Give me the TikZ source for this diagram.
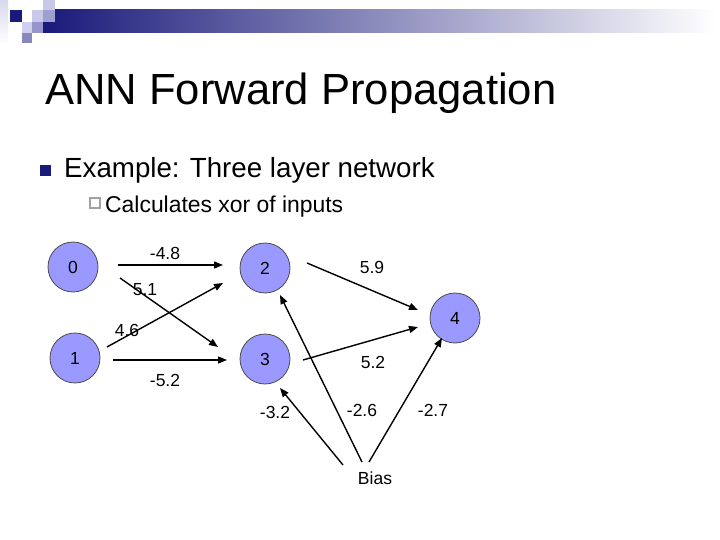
\documentclass[tikz,border=0pt]{standalone}
\usepackage{fontspec}
\setmainfont{Liberation Sans}
\usetikzlibrary{arrows.meta}
\definecolor{navy}{RGB}{26,26,122}
\definecolor{barmid}{RGB}{165,165,190}
\definecolor{nodefill}{RGB}{153,153,255}
\definecolor{sqa}{RGB}{200,200,232}
\definecolor{sqb}{RGB}{160,160,208}
\definecolor{sqc}{RGB}{208,208,238}
\definecolor{sqd}{RGB}{150,150,204}
\definecolor{sqe}{RGB}{136,136,187}
\definecolor{strip}{RGB}{216,216,238}
\definecolor{hollow}{RGB}{160,160,170}
\begin{document}
\begin{tikzpicture}[x=1pt,y=-1pt,
  neuron/.style={circle,draw=black!70,line width=0.8pt,fill=nodefill,minimum size=50pt,inner sep=0pt,font=\fontsize{17.5}{17.5}\selectfont},
  wlabel/.style={font=\fontsize{17.5}{17.5}\selectfont,inner sep=0pt},
  conn/.style={line width=1.4pt,-{Triangle[length=9pt,width=7pt]}}]
\useasboundingbox (0,0) rectangle (720,540);
% header decoration
\shade[left color=navy,middle color=barmid,right color=white] (43,10) rectangle (716,33);
\shade[top color=strip,bottom color=white] (0,0) rectangle (8,44);
\fill[navy] (10,10) rectangle (22,22);
\fill[sqa] (32,10) rectangle (43,22);
\fill[sqa] (43,0) rectangle (55,10);
\fill[sqb] (43,10) rectangle (55,22);
\fill[sqc] (22,22) rectangle (32,33);
\fill[sqd] (32,22) rectangle (43,33);
\fill[sqe] (22,33) rectangle (32,43);
% title and bullets
\node[anchor=base west,inner sep=0pt,font=\fontsize{43.6}{43.6}\selectfont] (title) at (45,105) {ANN Forward Propagation};
\fill[navy] (40,165) rectangle (51,176);
\node[anchor=base west,inner sep=0pt,font=\fontsize{27.7}{27.7}\selectfont] (ex) at (64,178) {Example: Three layer network};
\draw[hollow,line width=1.2pt] (90,198) rectangle (100,208);
\node[anchor=base west,inner sep=0pt,font=\fontsize{22.9}{22.9}\selectfont] (calc) at (105,212) {Calculates xor of inputs};
% neurons
\node[neuron] (n0) at (73,267) {0};
\node[neuron] (n1) at (75,358) {1};
\node[neuron] (n2) at (265,268) {2};
\node[neuron] (n3) at (265,359) {3};
\node[neuron] (n4) at (455,318) {4};
\node[wlabel] (bias) at (375,478) {Bias};
% connector end points
\coordinate (a0) at (118,265); \coordinate (b2) at (223,265);
\coordinate (c0) at (120,278); \coordinate (d3) at (218,347);
\coordinate (e1) at (107,347); \coordinate (f2) at (223,283);
\coordinate (g1) at (113,360); \coordinate (h3) at (227,360);
\coordinate (i2) at (307,263); \coordinate (j4) at (418,310);
\coordinate (k3) at (303,360); \coordinate (l4) at (418,327);
\coordinate (m1) at (343,465); \coordinate (m3) at (280,388);
\coordinate (o1) at (362,462); \coordinate (o2) at (280,295);
\coordinate (p1) at (369,462); \coordinate (p4) at (442,338);
\draw[conn] (a0) -- (b2);
\draw[conn] (c0) -- (d3);
\draw[conn] (e1) -- (f2);
\draw[conn] (g1) -- (h3);
\draw[conn] (i2) -- (j4);
\draw[conn] (k3) -- (l4);
\draw[conn] (m1) -- (m3);
\draw[conn] (o1) -- (o2);
\draw[conn] (p1) -- (p4);
% weights
\node[wlabel] (w02) at (165,253) {-4.8};
\node[wlabel] (w03) at (145,290) {5.1};
\node[wlabel] (w12) at (127,330) {4.6};
\node[wlabel] (w13) at (165,380) {-5.2};
\node[wlabel] (w24) at (372,267) {5.9};
\node[wlabel] (w34) at (373,362) {5.2};
\node[wlabel] (wb3) at (275,412) {-3.2};
\node[wlabel] (wb2) at (362,410) {-2.6};
\node[wlabel] (wb4) at (433,410) {-2.7};
\end{tikzpicture}
\end{document}
